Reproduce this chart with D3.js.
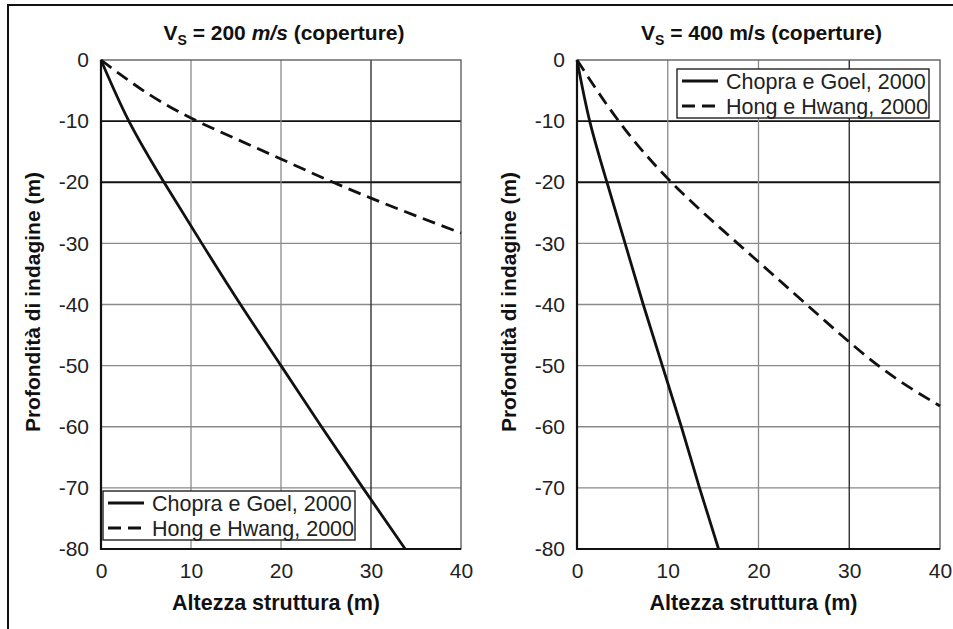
<!DOCTYPE html>
<html>
<head>
<meta charset="utf-8">
<title>Profondità di indagine</title>
<script src="https://cdn.jsdelivr.net/npm/d3@7"></script>
<style>
    body { margin: 0; background: #fff; }
    svg { display: block; font-family: "Liberation Sans", Arial, sans-serif; }
    .tick text { font-size: 21px; fill: #222; }
</style>
</head>
<body>
<svg width="953" height="629"></svg>
<script>
    // x ticks / y ticks shared by both panels
    var xTicks = [0, 10, 20, 30, 40];
    var yTicks = [0, -10, -20, -30, -40, -50, -60, -70, -80];

    var seriesNames = ["Chopra e Goel, 2000", "Hong e Hwang, 2000"];

    // Vs = 200 m/s
    var chopra200H = [0, 3.1, 7.0, 11.2, 15.5, 20.0, 24.5, 29.1, 33.8];
    var chopra200D = [0, -10, -20, -30, -40, -50, -60, -70, -80];
    var hong200H = [0, 5, 10, 15, 20, 25, 30, 35, 40];
    var hong200D = [0, -5.3, -9.5, -12.9, -16.2, -19.5, -22.6, -25.5, -28.3];

    // Vs = 400 m/s
    var chopra400H = [0, 1.4, 3.3, 5.3, 7.3, 9.4, 11.5, 13.5, 15.6];
    var chopra400D = [0, -10, -20, -30, -40, -50, -60, -70, -80];
    var hong400H = [0, 4.6, 10.4, 17.7, 25.3, 33.2, 40];
    var hong400D = [0, -10, -20, -30, -40, -50, -56.6];

    var svg = d3.select("svg");

    // scan border (left + top)
    svg.append("path")
        .attr("d", "M8,629V5H953")
        .attr("fill", "none")
        .attr("stroke", "#111")
        .attr("stroke-width", 2);

    function zip(xs, ys) {
        return xs.map(function(v, i) { return [v, ys[i]]; });
    }

    var panels = [
        { left: 101, right: 461, vs: "200", italic: true,
          legend: { x: 103, y: 491, w: 252 },
          chopra: zip(chopra200H, chopra200D), hong: zip(hong200H, hong200D) },
        { left: 577, right: 940, vs: "400", italic: false,
          legend: { x: 677, y: 69, w: 252 },
          chopra: zip(chopra400H, chopra400D), hong: zip(hong400H, hong400D) }
    ];
    var plotTop = 60, plotBottom = 549;

    panels.forEach(function(p) {
        var x = d3.scaleLinear().domain([0, 40]).range([p.left, p.right]);
        var y = d3.scaleLinear().domain([0, -80]).range([plotTop, plotBottom]);
        var g = svg.append("g");

        // grid
        g.selectAll(".hgrid").data(yTicks.slice(1, -1)).enter().append("line")
            .attr("x1", p.left).attr("x2", p.right)
            .attr("y1", function(d) { return y(d); })
            .attr("y2", function(d) { return y(d); })
            .attr("stroke", function(d) { return d >= -20 ? "#111" : "#8a8a8a"; })
            .attr("stroke-width", function(d) { return d >= -20 ? 1.8 : 1.3; });
        g.selectAll(".vgrid").data(xTicks.slice(1, -1)).enter().append("line")
            .attr("y1", plotTop).attr("y2", plotBottom)
            .attr("x1", function(d) { return x(d); })
            .attr("x2", function(d) { return x(d); })
            .attr("stroke", function(d) { return d == 30 ? "#222" : "#8a8a8a"; })
            .attr("stroke-width", 1.3);

        // frame
        g.append("rect")
            .attr("x", p.left).attr("y", plotTop)
            .attr("width", p.right - p.left).attr("height", plotBottom - plotTop)
            .attr("fill", "none").attr("stroke", "#555").attr("stroke-width", 1.3);
        g.append("path")
            .attr("d", "M" + p.left + "," + plotTop + "V" + plotBottom + "H" + p.right)
            .attr("fill", "none").attr("stroke", "#111").attr("stroke-width", 2.2);

        // axes (plain hyphen for negatives, as in the original)
        var fmt = function(d) { return String(d); };
        g.append("g")
            .attr("transform", "translate(0," + plotBottom + ")")
            .call(d3.axisBottom(x).tickValues(xTicks).tickFormat(fmt).tickSize(0).tickPadding(14))
            .call(function(a) { a.select(".domain").remove(); });
        g.append("g")
            .attr("transform", "translate(" + p.left + ",0)")
            .call(d3.axisLeft(y).tickValues(yTicks).tickFormat(fmt).tickSize(0).tickPadding(12))
            .call(function(a) { a.select(".domain").remove(); });

        // curves
        var line = d3.line()
            .x(function(d) { return x(d[0]); })
            .y(function(d) { return y(d[1]); })
            .curve(d3.curveNatural);
        g.append("path").datum(p.chopra)
            .attr("d", line).attr("fill", "none")
            .attr("stroke", "#111").attr("stroke-width", 2.8);
        g.append("path").datum(p.hong)
            .attr("d", line).attr("fill", "none")
            .attr("stroke", "#111").attr("stroke-width", 2.8)
            .attr("stroke-dasharray", "13,7");

        // title
        var cx = (p.left + p.right) / 2;
        var t = svg.append("text")
            .attr("x", cx + 3).attr("y", 40)
            .attr("text-anchor", "middle")
            .attr("font-size", 21).attr("font-weight", "bold").attr("fill", "#111");
        t.append("tspan").text("V");
        t.append("tspan").attr("font-size", 14).attr("dy", 5).text("S");
        t.append("tspan").attr("dy", -5).text(" = " + p.vs + " ");
        t.append("tspan").attr("font-style", p.italic ? "italic" : "normal").text("m/s");
        t.append("tspan").text(" (coperture)");

        // axis titles
        svg.append("text")
            .attr("x", cx - 5).attr("y", 610)
            .attr("text-anchor", "middle")
            .attr("font-size", 21.5).attr("font-weight", "bold").attr("fill", "#111")
            .text("Altezza struttura (m)");
        svg.append("text")
            .attr("transform", "translate(" + (p.left - 61) + ",302) rotate(-90)")
            .attr("text-anchor", "middle")
            .attr("font-size", 21).attr("font-weight", "bold").attr("fill", "#111")
            .text("Profondità di indagine (m)");

        // legend
        var lg = svg.append("g").attr("transform", "translate(" + p.legend.x + "," + p.legend.y + ")");
        lg.append("rect")
            .attr("width", p.legend.w).attr("height", 49)
            .attr("fill", "#fff").attr("stroke", "#222").attr("stroke-width", 1.4);
        seriesNames.forEach(function(name, i) {
            var ly = 12 + i * 25;
            lg.append("line")
                .attr("x1", 5).attr("x2", 41).attr("y1", ly).attr("y2", ly)
                .attr("stroke", "#111").attr("stroke-width", 2.8)
                .attr("stroke-dasharray", i == 1 ? "13,7" : null);
            lg.append("text")
                .attr("x", 49).attr("y", ly).attr("dy", "0.35em")
                .attr("font-size", 21.5).attr("fill", "#222")
                .text(name);
        });
    });
</script>
</body>
</html>
